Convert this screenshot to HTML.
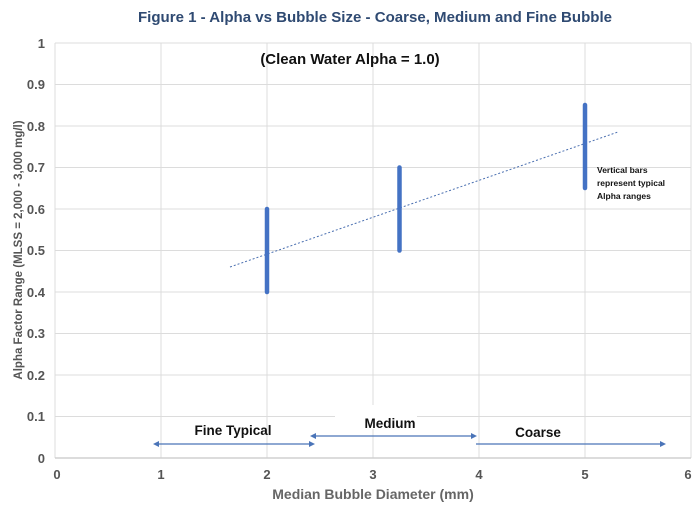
<!DOCTYPE html><html><head><style>body{margin:0;background:#fff}svg{display:block}text{font-family:"Liberation Sans",sans-serif}</style></head><body>
<svg width="700" height="507" viewBox="0 0 700 507">
<rect width="700" height="507" fill="#fff"/>
<text x="375" y="22" text-anchor="middle" font-size="14.5" font-weight="bold" fill="#2f4a72" textLength="474" lengthAdjust="spacingAndGlyphs">Figure 1 - Alpha vs Bubble Size - Coarse, Medium and Fine Bubble</text>
<g stroke="#dcdcdc" stroke-width="1">
<line x1="55" y1="43" x2="691" y2="43"/><line x1="55" y1="84.5" x2="691" y2="84.5"/><line x1="55" y1="126" x2="691" y2="126"/><line x1="55" y1="167.5" x2="691" y2="167.5"/><line x1="55" y1="209" x2="691" y2="209"/><line x1="55" y1="250.5" x2="691" y2="250.5"/><line x1="55" y1="292" x2="691" y2="292"/><line x1="55" y1="333.5" x2="691" y2="333.5"/><line x1="55" y1="375" x2="691" y2="375"/><line x1="55" y1="416.5" x2="691" y2="416.5"/>
<line x1="55" y1="43" x2="55" y2="458"/><line x1="161" y1="43" x2="161" y2="458"/><line x1="267" y1="43" x2="267" y2="458"/><line x1="373" y1="43" x2="373" y2="458"/><line x1="479" y1="43" x2="479" y2="458"/><line x1="585" y1="43" x2="585" y2="458"/><line x1="691" y1="43" x2="691" y2="458"/>
</g>
<line x1="55" y1="458" x2="691" y2="458" stroke="#d0d0d0" stroke-width="1.5"/>
<g font-size="13" fill="#555" text-anchor="end" font-weight="bold">
<text x="45" y="48">1</text><text x="45" y="89">0.9</text><text x="45" y="131">0.8</text><text x="45" y="172">0.7</text><text x="45" y="214">0.6</text><text x="45" y="255">0.5</text><text x="45" y="297">0.4</text><text x="45" y="338">0.3</text><text x="45" y="380">0.2</text><text x="45" y="421">0.1</text><text x="45" y="463">0</text>
</g>
<g font-size="13" fill="#555" text-anchor="middle" font-weight="bold">
<text x="57" y="479">0</text><text x="161" y="479">1</text><text x="267" y="479">2</text><text x="373" y="479">3</text><text x="479" y="479">4</text><text x="585" y="479">5</text><text x="688" y="479">6</text>
</g>
<text x="373" y="499" text-anchor="middle" font-size="14" font-weight="bold" fill="#666">Median Bubble Diameter (mm)</text>
<text transform="translate(22,250) rotate(-90)" text-anchor="middle" font-size="11.5" font-weight="bold" fill="#555">Alpha Factor Range (MLSS = 2,000 - 3,000 mg/l)</text>
<text x="350" y="64" text-anchor="middle" font-size="15" font-weight="bold" fill="#111">(Clean Water Alpha = 1.0)</text>
<line x1="230" y1="267" x2="618" y2="132" stroke="#4a6fb0" stroke-width="1" stroke-dasharray="2,2"/>
<g stroke="#4472c4" stroke-width="4.5" stroke-linecap="round">
<line x1="267" y1="209" x2="267" y2="292"/><line x1="399.5" y1="167.5" x2="399.5" y2="250.5"/><line x1="585" y1="105" x2="585" y2="188"/>
</g>
<text x="597" y="173" font-size="8.5" font-weight="bold" fill="#111">Vertical bars</text>
<text x="597" y="186" font-size="8.5" font-weight="bold" fill="#111">represent typical</text>
<text x="597" y="199" font-size="8.5" font-weight="bold" fill="#111">Alpha ranges</text>
<rect x="335" y="405" width="82" height="24" fill="#fff"/>
<g font-size="13.5" font-weight="bold" fill="#111" text-anchor="middle">
<text x="233" y="435">Fine Typical</text><text x="390" y="428">Medium</text><text x="538" y="437">Coarse</text>
</g>
<g stroke="#4a74b8" stroke-width="1.3" fill="#4a74b8">
<line x1="155" y1="444" x2="313" y2="444"/><path d="M153 444l6-3v6z M315 444l-6-3v6z" stroke="none"/>
<line x1="312" y1="436" x2="475" y2="436"/><path d="M310 436l6-3v6z M477 436l-6-3v6z" stroke="none"/>
<line x1="476" y1="444" x2="663" y2="444"/><path d="M666 444l-6-3v6z" stroke="none"/>
</g>
</svg></body></html>
